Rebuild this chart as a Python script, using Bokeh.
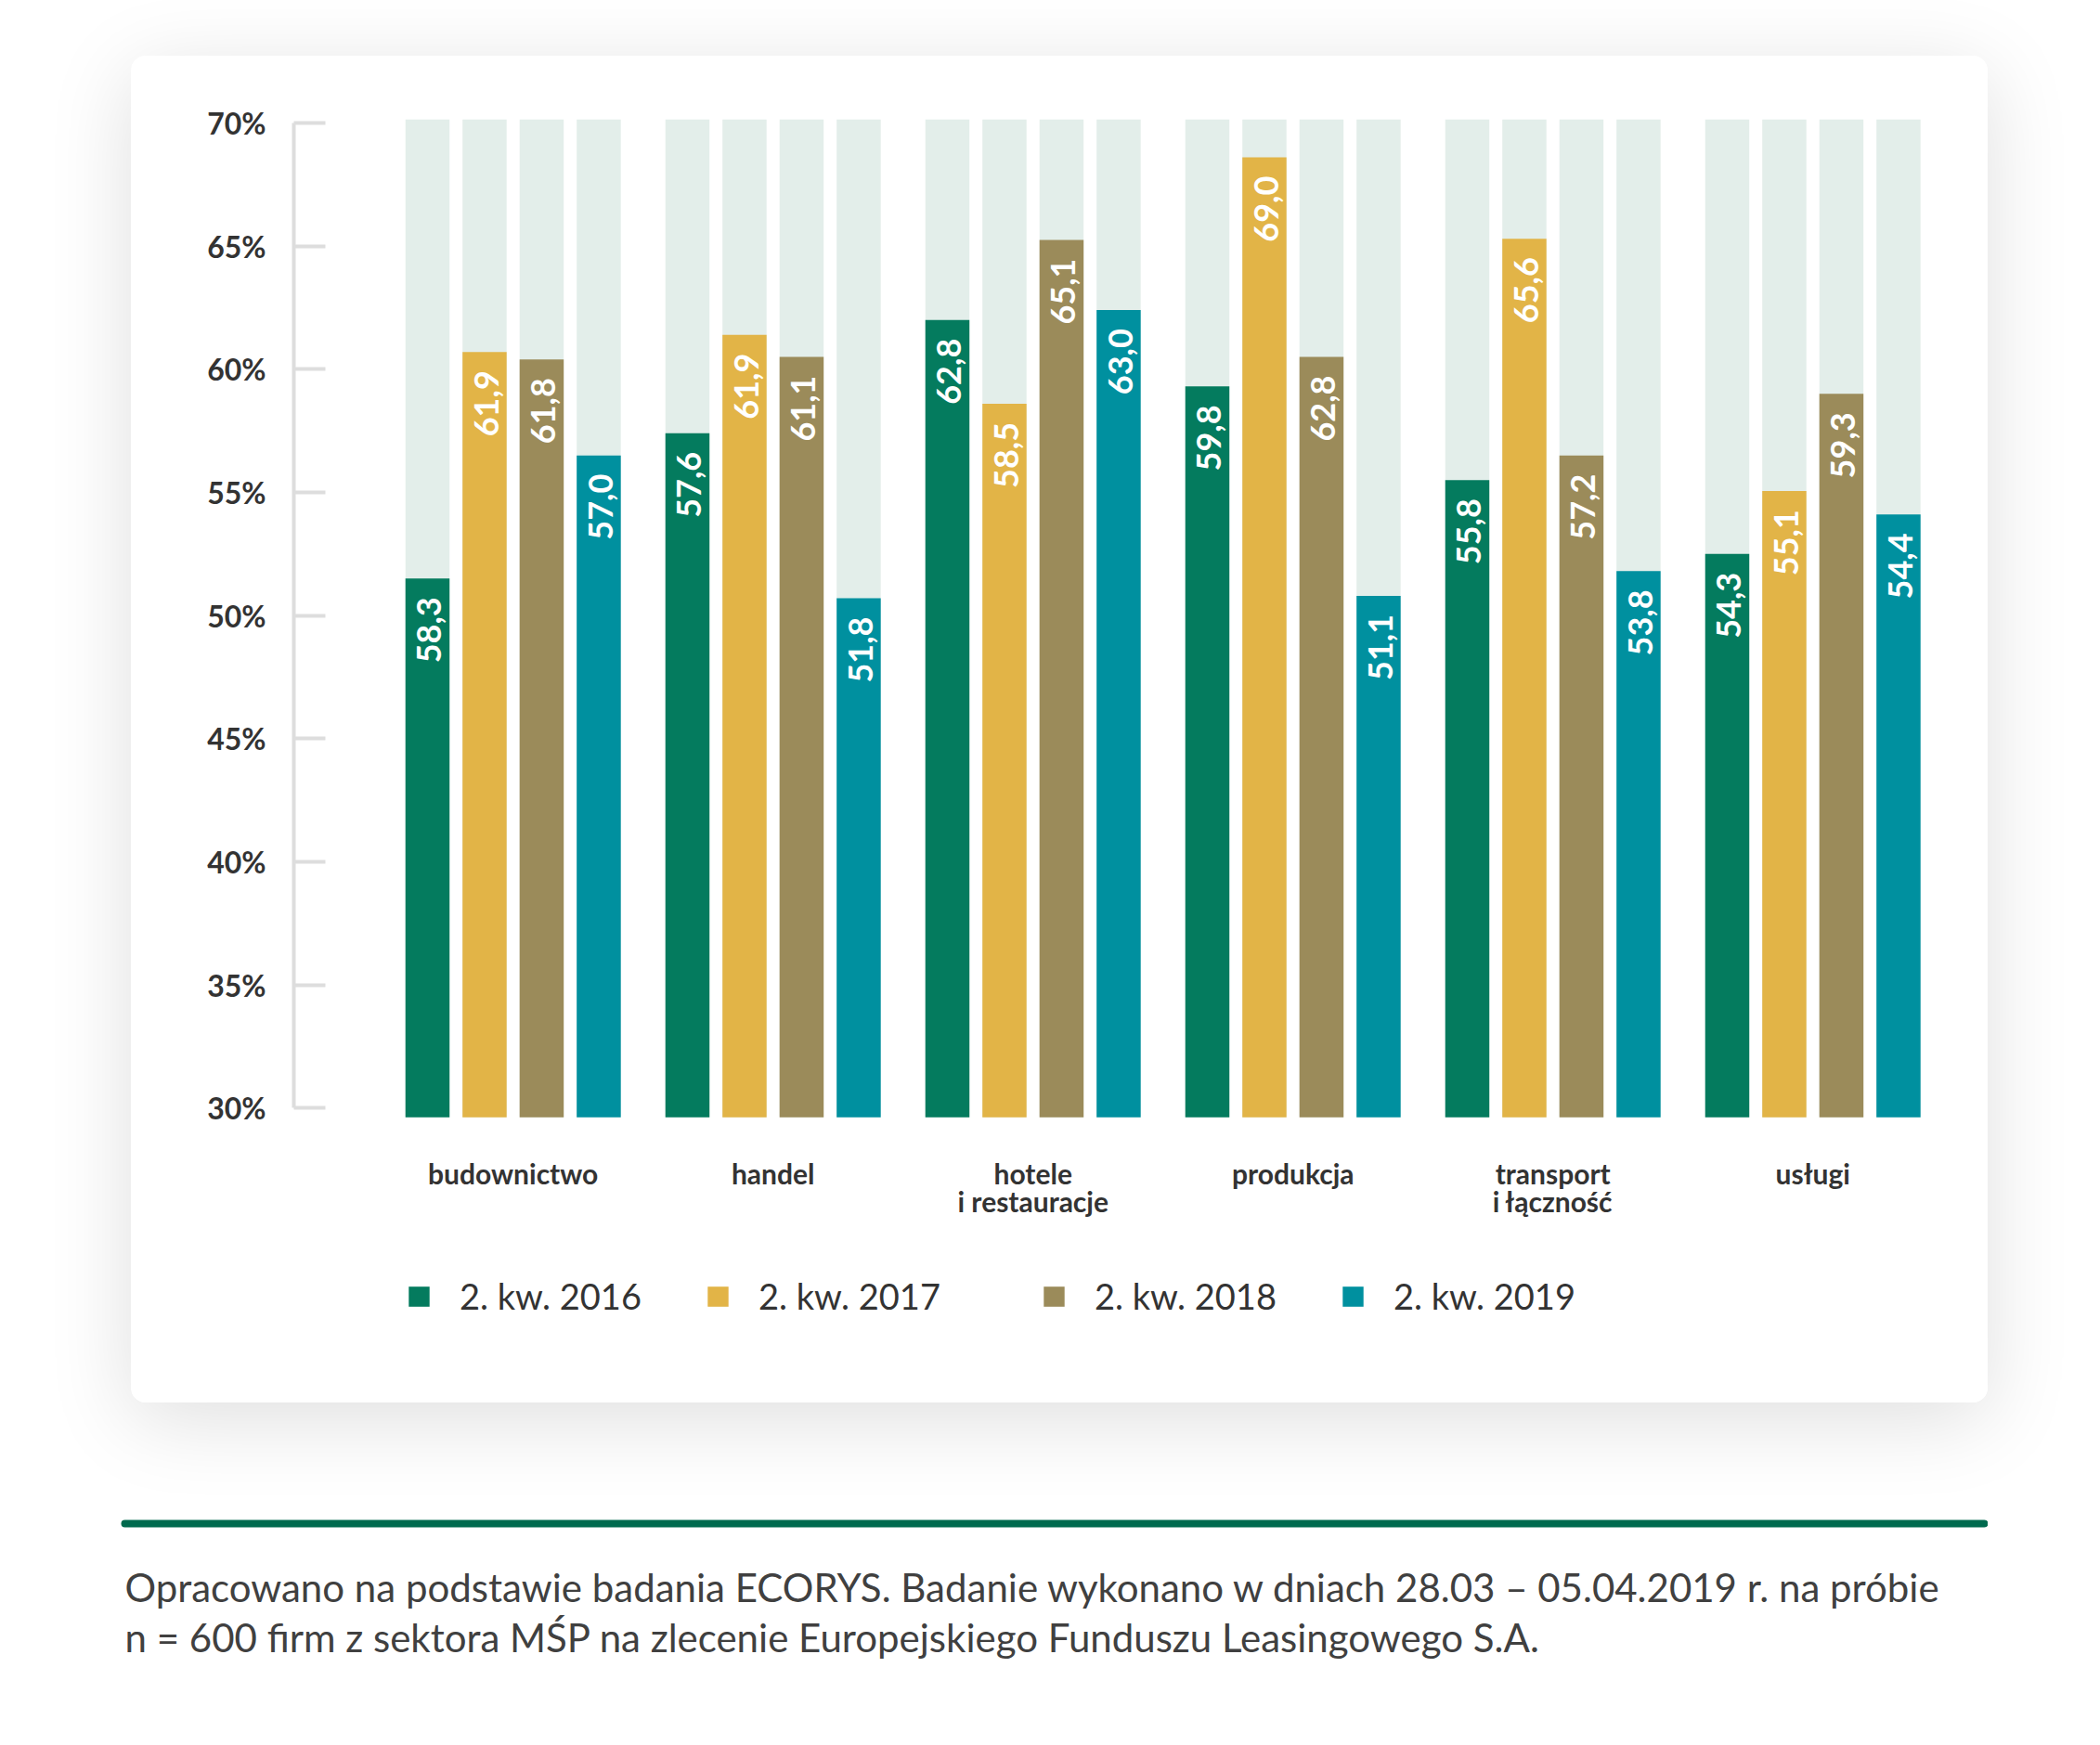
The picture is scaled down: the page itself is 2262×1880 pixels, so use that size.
import math
from bokeh.plotting import figure
from bokeh.models import (ColumnDataSource, Range1d, FixedTicker, Legend, LegendItem, LinearAxis)
from bokeh.transform import dodge
from bokeh.embed import file_html
from bokeh.resources import INLINE
from bokeh.core.properties import value

# ---------------- data ----------------
CATEGORIES = ["budownictwo", "handel", "hotele\ni restauracje", "produkcja",
              "transport\ni łączność", "usługi"]
SERIES = ["2. kw. 2016", "2. kw. 2017", "2. kw. 2018", "2. kw. 2019"]

# values printed on the bars
VAL_2016 = [58.3, 57.6, 62.8, 59.8, 55.8, 54.3]
VAL_2017 = [61.9, 61.9, 58.5, 69.0, 65.6, 55.1]
VAL_2018 = [61.8, 61.1, 65.1, 62.8, 57.2, 59.3]
VAL_2019 = [57.0, 51.8, 63.0, 51.1, 53.8, 54.4]

# bar heights as drawn in the picture
BAR_2016 = [51.5, 57.4, 62.0, 59.3, 55.5, 52.5]
BAR_2017 = [60.7, 61.4, 58.6, 68.6, 65.3, 55.05]
BAR_2018 = [60.4, 60.5, 65.25, 60.5, 56.5, 59.0]
BAR_2019 = [56.5, 50.7, 62.4, 50.8, 51.8, 54.1]

Y_TICKS = [30, 35, 40, 45, 50, 55, 60, 65, 70]

FOOTNOTE = [
    "Opracowano na podstawie badania ECORYS. Badanie wykonano w dniach 28.03 – 05.04.2019 r. na próbie",
    "n = 600 firm z sektora MŚP na zlecenie Europejskiego Funduszu Leasingowego S.A.",
]

# ---------------- style ----------------
COLORS = ["#047b5e", "#e2b447", "#9b8b5a", "#00909f"]
BG_COLOR = "#e3eeea"
TEXT_DARK = "#333333"
BASE = 29.62              # where the bars start (just below the 30% tick)
Y_START, Y_END = 19.53, 70.15
X_START, X_END = -0.8436, 5.5314
BAR_STEP = 0.2196
BAR_W = 0.1696
FONT = "Lato"
LEGEND_X = [121, 443, 805, 1127]   # screen offsets of the legend entries from the frame's left edge

def fmt(v):
    return f"{v:.1f}".replace(".", ",")

vals = [VAL_2016, VAL_2017, VAL_2018, VAL_2019]
bars = [BAR_2016, BAR_2017, BAR_2018, BAR_2019]

data = dict(x=list(range(len(CATEGORIES))), cat=CATEGORIES)
for j in range(4):
    data[f"h{j}"] = bars[j]
    data[f"l{j}"] = [fmt(v) for v in vals[j]]
src = ColumnDataSource(data)

p = figure(width=2000, height=1451,
           x_range=Range1d(X_START, X_END), y_range=Range1d(Y_START, Y_END),
           output_backend="svg", toolbar_location=None,
           x_axis_type=None, y_axis_type=None,
           min_border_left=175, min_border_right=40,
           min_border_top=68, min_border_bottom=40)
p.outline_line_color = None
p.background_fill_color = "white"
p.border_fill_color = "white"

renderers = []
for j in range(4):
    off = (j - 1.5) * BAR_STEP
    xd = dodge("x", off, range=p.x_range)
    p.vbar(x=xd, top=Y_END, bottom=BASE, width=BAR_W, source=src,
           fill_color=BG_COLOR, line_color=None)
    r = p.vbar(x=xd, top=f"h{j}", bottom=BASE, width=BAR_W, source=src,
               fill_color=COLORS[j], line_color=None)
    renderers.append(r)
    p.text(x=xd, y=f"h{j}", text=f"l{j}", source=src, angle=math.pi / 2,
           text_align="right", text_baseline="middle", y_offset=20, x_offset=2,
           text_color="white", text_font=value(FONT), text_font_style="bold",
           text_font_size="36px")

# category labels under each group
p.text(x="x", y=BASE, text="cat", source=src, y_offset=42,
       text_align="center", text_baseline="top", text_line_height=0.83,
       text_color=TEXT_DARK, text_font=value(FONT), text_font_style="bold",
       text_font_size="30px")

yaxis = LinearAxis(ticker=FixedTicker(ticks=Y_TICKS), bounds=(min(Y_TICKS), max(Y_TICKS)),
                   major_label_overrides={t: f"{t}%" for t in Y_TICKS},
                   axis_line_color="#dddddd", axis_line_width=4,
                   major_tick_in=34, major_tick_out=0,
                   major_tick_line_color="#dddddd", major_tick_line_width=4,
                   minor_tick_line_color=None, major_label_standoff=30,
                   major_label_text_font=FONT, major_label_text_font_style="bold",
                   major_label_text_font_size="32px", major_label_text_color=TEXT_DARK)
p.add_layout(yaxis, "left")

for j in range(4):
    leg = Legend(items=[LegendItem(label=SERIES[j], renderers=[renderers[j]])],
                 orientation="horizontal", location=(LEGEND_X[j], 52),
                 glyph_width=28, glyph_height=27, label_standoff=30,
                 padding=0, margin=0, border_line_color=None, background_fill_alpha=0,
                 label_text_font=FONT, label_text_font_size="38px",
                 label_text_color=TEXT_DARK)
    p.add_layout(leg, "center")

p.styles = {"box-shadow": "0px 18px 90px rgba(0,0,0,0.13)",
            "border-radius": "16px", "overflow": "hidden"}
p.margin = (60, 0, 0, 141)

# ---------------- footnote (separate root, stacked under the card) ----------------
FOOT_LEFT, FOOT_RIGHT, FOOT_TOP, FOOT_BOTTOM = 126, 2141, 1600, 1820
f = figure(width=FOOT_RIGHT - FOOT_LEFT, height=FOOT_BOTTOM - FOOT_TOP,
           x_range=Range1d(FOOT_LEFT, FOOT_RIGHT), y_range=Range1d(FOOT_BOTTOM, FOOT_TOP),
           output_backend="svg", toolbar_location=None,
           x_axis_type=None, y_axis_type=None, min_border=0)
f.outline_line_color = None
f.background_fill_alpha = 0
f.border_fill_alpha = 0
f.segment(x0=[134], y0=[1641], x1=[2137], y1=[1641], line_width=8,
          line_color="#006a4e", line_cap="round")
f.text(x=[134] * len(FOOTNOTE), y=[1709, 1763], text=FOOTNOTE,
       text_baseline="alphabetic", text_align="left",
       text_font=value(FONT), text_font_size="42px",
       text_color="#404040")
f.margin = (FOOT_TOP - 1511, 0, 0, FOOT_LEFT)

open("out.html", "w").write(file_html([p, f], INLINE))
